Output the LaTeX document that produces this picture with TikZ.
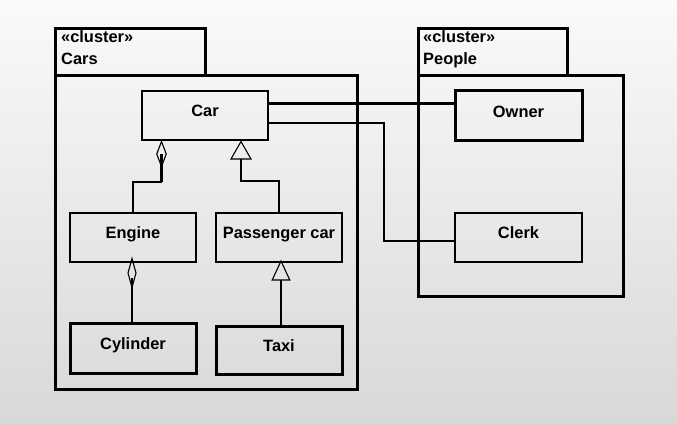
\documentclass[tikz,border=0pt]{standalone}
\usepackage{fontspec}
\setmainfont{Liberation Sans}
\usetikzlibrary{calc}
\definecolor{bgtop}{RGB}{250,250,250}
\definecolor{bgbot}{RGB}{216,216,216}
\begin{document}
\begin{tikzpicture}[x=1pt,y=-1pt,
  every node/.style={font=\fontsize{16.4}{19}\selectfont\bfseries, inner sep=0pt},
  umlbox/.style={draw, line width=2.6pt, minimum width=126pt, minimum height=49pt, text height=3pt, text depth=0.5pt},
  umlboxthick/.style={umlbox, line width=3pt},
  pkgpart/.style={draw, line width=2.6pt, anchor=north west},
  pkgtext/.style={anchor=base west},
  conn/.style={line width=2pt},
  connthick/.style={line width=2.8pt},
  tipline/.style={line width=1.1pt, line join=miter}]
\useasboundingbox (0,0) rectangle (677,425);
\shade[top color=bgtop, bottom color=bgbot] (0,0) rectangle (677,425);

% Package Cars
\node[pkgpart, minimum width=150pt, minimum height=47pt] (carstab) at (54,27) {};
\node[pkgpart, minimum width=302pt, minimum height=314pt] (carsbody) at (54,74) {};
\node[pkgtext] (carsst) at (61,43) {«cluster»};
\node[pkgtext] (carsname) at (61,65) {Cars};

% Package People
\node[pkgpart, minimum width=149pt, minimum height=47pt] (peopletab) at (417,27) {};
\node[pkgpart, minimum width=205pt, minimum height=221pt] (peoplebody) at (417,74) {};
\node[pkgtext] (peoplest) at (423,43) {«cluster»};
\node[pkgtext] (peoplename) at (423,65) {People};

% Classes
\node[umlbox] (car) at (205,115.5) {Car};
\node[umlbox] (engine) at (133,237.5) {Engine};
\node[umlbox] (passenger) at (279,237.5) {Passenger car};
\node[umlboxthick, minimum height=50pt] (cylinder) at (133,348) {Cylinder};
\node[umlboxthick, minimum height=48pt] (taxi) at (279,350) {Taxi};
\node[umlboxthick, minimum width=127pt, minimum height=50pt] (owner) at (518.5,116) {Owner};
\node[umlbox, minimum width=127pt] (clerk) at (518.5,237.5) {Clerk};

% Associations
\coordinate (a1) at ([yshift=-14pt]car.north east);
\draw[connthick] (a1) -- (a1 -| owner.west);
\draw[conn] ([yshift=-33pt]car.north east) -- ++(115,0) |- ([yshift=-3.5pt]clerk.west);

% Engine -> Car (aggregation)
\coordinate (d1) at (161.5,154);
\coordinate (e1) at (161.5,182);
\draw[conn] (engine.north) |- (e1);
\draw[connthick] (e1) -- (d1);
\draw[tipline] (d1) ++(0,-12.5) -- ++(4.75,12.5) -- ++(-4.75,12.5) -- ++(-4.75,-12.5) -- cycle;

% Passenger car -> Car (generalization)
\coordinate (t1) at (241,159);
\draw[conn] (passenger.north) -- ++(0,-31) -| (t1);
\draw[tipline] (t1) ++(-10,0) -- ++(10,-17.5) -- ++(10,17.5) -- cycle;

% Cylinder -> Engine (aggregation)
\coordinate (d2) at (132,273);
\draw[conn] (cylinder.north -| d2) -- ([yshift=-5pt]d2);
\draw[tipline] (d2) ++(0,-14.5) -- ++(4,14.5) -- ++(-4,14.5) -- ++(-4,-14.5) -- cycle;

% Taxi -> Passenger car (generalization)
\coordinate (t2) at (281,280);
\draw[connthick] (taxi.north -| t2) -- (t2);
\draw[tipline] (t2) ++(-8.8,0) -- ++(8.8,-19) -- ++(8.8,19) -- cycle;
\end{tikzpicture}
\end{document}
